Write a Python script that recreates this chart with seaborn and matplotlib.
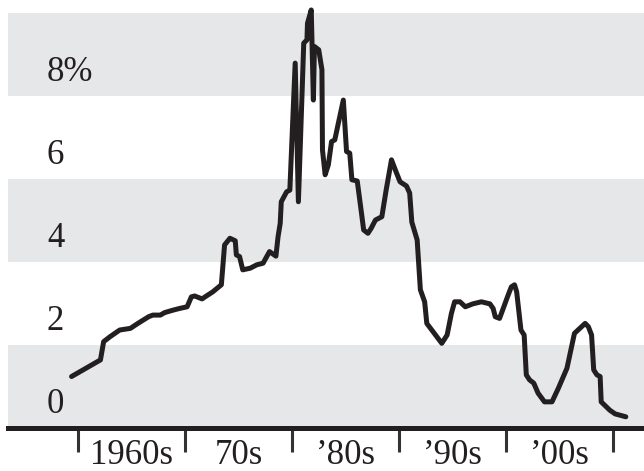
import matplotlib
matplotlib.use("Agg")
import matplotlib.pyplot as plt
import numpy as np
import pandas as pd
import seaborn as sns

# Annual rate, percent, by (fractional) year
years = [1959.4, 1962.1, 1962.4, 1963.0, 1963.9, 1964.9, 1965.6, 1966.6, 1967.0, 1967.7,
         1968.1, 1968.9, 1969.5, 1970.2, 1970.6, 1970.9, 1971.6, 1972.0, 1972.6, 1973.4,
         1973.7, 1974.2, 1974.7, 1974.8, 1975.1, 1975.4, 1976.1, 1976.7, 1977.3, 1977.9,
         1978.5, 1978.7, 1978.9, 1979.0, 1979.5, 1979.8, 1980.3, 1980.6, 1981.1, 1981.4,
         1981.45, 1981.8, 1982.0, 1982.1, 1982.5, 1982.8, 1982.85, 1983.1, 1983.4, 1983.7,
         1984.0, 1984.8, 1985.1, 1985.4, 1985.6, 1986.1, 1986.5, 1986.7, 1987.1, 1987.4,
         1987.8, 1988.4, 1988.8, 1989.3, 1989.7, 1990.1, 1990.7, 1991.0, 1991.2, 1991.7,
         1992.0, 1992.4, 1992.6, 1994.0, 1994.5, 1994.9, 1995.2, 1995.7, 1996.2, 1996.9,
         1997.7, 1998.5, 1998.8, 1999.0, 1999.4, 2000.2, 2000.5, 2000.8, 2001.0, 2001.4,
         2001.7, 2001.9, 2002.2, 2002.6, 2003.0, 2003.6, 2004.3, 2004.9, 2005.7, 2006.4,
         2007.4, 2007.7, 2008.0, 2008.2, 2008.5, 2008.8, 2008.9, 2009.7, 2010.2, 2011.2]
rates = [1.24, 1.64, 2.08, 2.20, 2.36, 2.40, 2.52, 2.68, 2.72, 2.72,
         2.78, 2.84, 2.88, 2.92, 3.16, 3.18, 3.11, 3.18, 3.28, 3.45,
         4.41, 4.57, 4.51, 4.17, 4.13, 3.81, 3.85, 3.93, 3.97, 4.25,
         4.14, 4.61, 4.93, 5.45, 5.69, 5.73, 8.79, 5.45, 9.27, 9.35,
         9.75, 10.07, 7.90, 9.19, 9.11, 8.63, 6.70, 6.10, 6.34, 6.90,
         6.94, 7.90, 6.66, 6.62, 5.98, 5.95, 5.17, 4.77, 4.69, 4.81,
         5.01, 5.09, 5.73, 6.46, 6.19, 5.93, 5.83, 5.66, 4.96, 4.53,
         3.33, 3.04, 2.52, 2.04, 2.24, 2.76, 3.04, 3.04, 2.92, 2.99,
         3.04, 2.99, 2.88, 2.68, 2.64, 3.20, 3.40, 3.45, 3.28, 2.36,
         2.24, 1.28, 1.16, 1.08, 0.84, 0.63, 0.63, 0.96, 1.44, 2.28,
         2.52, 2.44, 2.24, 1.40, 1.28, 1.24, 0.63, 0.43, 0.34, 0.27]

y_ticks = [0, 2, 4, 6, 8]
y_labels = ["0", "2", "4", "6", "8%"]
decade_edges = [1960, 1970, 1980, 1990, 2000, 2010]
decade_labels = ["1960s", "70s", "\u201980s", "\u201990s", "\u201900s"]

ink = "#231f20"
band = "#e6e7e8"

sns.set_style("white")
plt.rcParams["font.family"] = ["Liberation Serif", "DejaVu Serif"]

fig = plt.figure(figsize=(6.44, 4.71), dpi=100)
ax = fig.add_axes([8 / 644, 43 / 471, 1 - 8 / 644, 428 / 471])

# alternating shaded bands
for lo in y_ticks[::2]:
    ax.axhspan(lo, lo + 2, color=band, lw=0, zorder=0)

df = pd.DataFrame({"year": years, "rate": rates})
sns.lineplot(data=df, x="year", y="rate", estimator=None, sort=False,
             color=ink, lw=3.6, ax=ax, zorder=3)

ax.set_xlim(1953.46, 2012.9)
ax.set_ylim(0, 10.31)

for s in ["top", "right", "left"]:
    ax.spines[s].set_visible(False)
ax.spines["bottom"].set_linewidth(3.6)
ax.spines["bottom"].set_color(ink)

# decade boundary ticks, labels centred within each decade
ax.set_xticks(decade_edges)
ax.set_xticklabels([])
ax.set_xticks([d + 5 for d in decade_edges[:-1]], minor=True)
ax.set_xticklabels(decade_labels, minor=True)
ax.tick_params(axis="x", which="major", length=17, width=2.2, color="#333333",
               direction="out", bottom=True)
ax.tick_params(axis="x", which="minor", length=0, pad=26, labelsize=25,
               labelcolor=ink)
for lab in ax.get_xticklabels(minor=True):
    lab.set_verticalalignment("baseline")

ax.set_yticks([])
ax.set_xlabel("")
ax.set_ylabel("")

# value labels sitting just above each guide level
for v, t in zip(y_ticks, y_labels):
    ax.text(1957.1, v + 0.36, t, fontsize=25, color=ink, ha="left", va="baseline")

fig.savefig("out.png", dpi=100)
